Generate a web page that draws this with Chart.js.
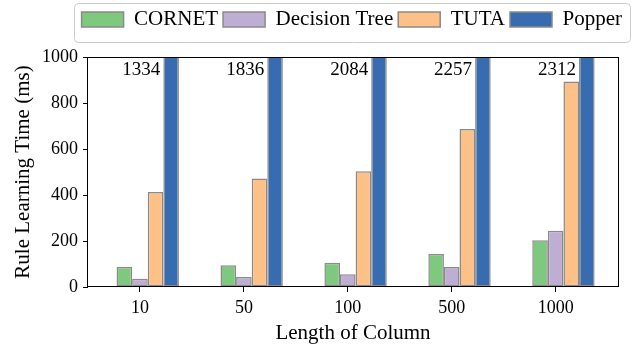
<!DOCTYPE html>
<html>
<head>
<meta charset="utf-8">
<script src="https://cdn.jsdelivr.net/npm/chart.js@4.4.0/dist/chart.umd.min.js"></script>
<style>
	html, body { margin: 0; padding: 0; background: #fff; }
</style>
</head>
<body>
<canvas id="bar-chart" width="638" height="347"></canvas>
<script>
const columnLengths = ["10", "50", "100", "500", "1000"];
const cornetTimes = [88, 95, 105, 143, 203];
const decisionTreeTimes = [36, 43, 55, 87, 245];
const tutaTimes = [413, 472, 503, 687, 893];
const popperTimes = [1334, 1836, 2084, 2257, 2312];
const yTickValues = [0, 200, 400, 600, 800, 1000];

const serif = "'Liberation Serif', 'Times New Roman', serif";
const edge = "#8a8a8a";

Chart.defaults.font.family = serif;
Chart.defaults.color = "#000";

// bars sit at x = 0..4 on a linear axis
function points(values) {
	return values.map((v, i) => ({ x: i, y: v }));
}

function barSet(label, color, values) {
	return {
		label: label,
		data: points(values),
		backgroundColor: color,
		borderColor: edge,
		borderWidth: 1.5,
		borderSkipped: false
	};
}

const extras = {
	id: "extras",
	afterLayout(chart) {
		// pull the legend up into the top padding and push it a bit to the right
		const legend = chart.legend;
		legend.top -= 17;
		legend.bottom -= 17;
		legend.left += 9;
		legend.right += 9;
	},
	afterDatasetsDraw(chart) {
		const ctx = chart.ctx;
		const a = chart.chartArea;
		const meta = chart.getDatasetMeta(4);
		ctx.save();
		ctx.font = "19px " + serif;
		ctx.fillStyle = "#000";
		ctx.textAlign = "right";
		ctx.textBaseline = "alphabetic";
		meta.data.forEach((bar, i) => {
			ctx.fillText(String(popperTimes[i]), bar.x - bar.width / 2 - 3, a.top + 18);
		});
		ctx.strokeStyle = "#000";
		ctx.lineWidth = 1;
		ctx.strokeRect(Math.round(a.left) - 0.5, Math.round(a.top) + 0.5,
			Math.round(a.right - a.left) + 1, Math.round(a.bottom - a.top) - 1);
		ctx.restore();
	},
	afterDraw(chart) {
		const hb = chart.legend.legendHitBoxes;
		if (!hb || !hb.length) return;
		const last = hb[hb.length - 1];
		const x0 = hb[0].left - 8;
		const x1 = last.left + last.width + 8;
		const y0 = hb[0].top - 6;
		const y1 = hb[0].top + hb[0].height + 12;
		const ctx = chart.ctx;
		ctx.save();
		ctx.strokeStyle = "#cccccc";
		ctx.lineWidth = 1;
		ctx.beginPath();
		ctx.roundRect(Math.round(x0) + 0.5, Math.round(y0) + 0.5, Math.round(x1 - x0), Math.round(y1 - y0), 4);
		ctx.stroke();
		ctx.restore();
	}
};

const getChartElement = document.querySelector("#bar-chart");
var chart = new Chart(getChartElement, {
	type: "bar",
	data: {
		datasets: [
			// empty slot so the ticks line up with the second bar of each group
			{ label: "", data: [] },
			barSet("CORNET", "#7fc97f", cornetTimes),
			barSet("Decision Tree", "#beaed4", decisionTreeTimes),
			barSet("TUTA", "#fdc086", tutaTimes),
			barSet("Popper", "#386cb0", popperTimes)
		]
	},
	options: {
		responsive: false,
		animation: false,
		layout: {
			padding: { top: 21, right: 20, bottom: 0, left: 0 }
		},
		datasets: {
			bar: {
				categoryPercentage: 0.75,
				barPercentage: 1
			}
		},
		scales: {
			x: {
				type: "linear",
				min: -0.5,
				max: 4.6,
				offset: false,
				grid: {
					offset: false,
					drawOnChartArea: false,
					tickLength: 5,
					color: "#000"
				},
				border: { display: false },
				ticks: {
					stepSize: 1,
					includeBounds: false,
					autoSkip: false,
					maxRotation: 0,
					padding: 5,
					font: { size: 18 },
					callback: (v) => columnLengths[v] ?? ""
				},
				title: {
					display: true,
					text: "Length of Column",
					font: { size: 21 },
					padding: { top: 0, bottom: 1 }
				},
				afterFit: (s) => { s.height = 60; }
			},
			y: {
				min: 0,
				max: 1000,
				grid: {
					drawOnChartArea: false,
					tickLength: 5,
					color: "#000"
				},
				border: { display: false },
				ticks: {
					padding: 5,
					font: { size: 18 },
					callback: (v) => String(v)
				},
				afterBuildTicks: (s) => { s.ticks = yTickValues.map((v) => ({ value: v })); },
				title: {
					display: true,
					text: "Rule Learning Time (ms)",
					font: { size: 21 },
					padding: { top: 11, bottom: 0 }
				},
				afterFit: (s) => { s.width = 88; }
			}
		},
		plugins: {
			legend: {
				display: true,
				position: "top",
				align: "end",
				labels: {
					boxWidth: 42,
					boxHeight: 15,
					padding: 5,
					font: { size: 21 },
					filter: (item) => item.text !== ""
				}
			},
			tooltip: { enabled: false }
		}
	},
	plugins: [extras]
});
</script>
</body>
</html>
